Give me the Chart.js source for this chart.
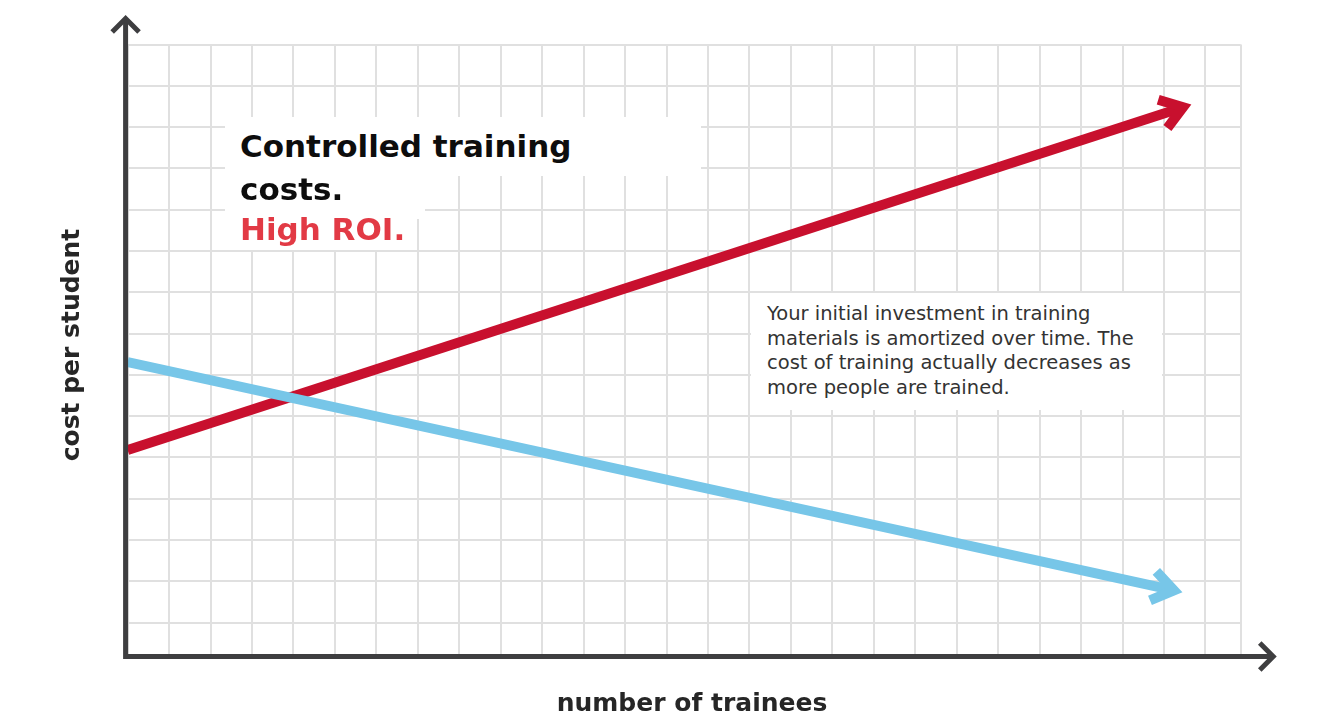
<!DOCTYPE html>
<html lang="en">
<head>
<meta charset="UTF-8">
<title>Controlled training costs</title>
<script src="https://cdn.jsdelivr.net/npm/chart.js"></script>
<style>
    body {
        margin: 0;
        background: #ffffff;
        font-family: "DejaVu Sans", sans-serif;
    }

    .wrap {
        position: relative;
        width: 1332px;
        height: 716px;
    }

    .box {
        position: absolute;
        background: #ffffff;
    }

    .headline {
        position: absolute;
        left: 240px;
        font-size: 31px;
        font-weight: bold;
        line-height: 40px;
        white-space: nowrap;
        color: #0d0d0d;
    }

    .headline.red {
        color: #e23a45;
    }

    .note {
        position: absolute;
        left: 767px;
        top: 302px;
        font-size: 19.5px;
        line-height: 24.7px;
        color: #333333;
        white-space: nowrap;
    }
</style>
</head>
<body>
<div class="wrap">
    <canvas id="roiChart"></canvas>

    <!-- white backing behind the texts -->
    <div class="box" style="left:225px; top:117px; width:476px; height:59px;"></div>
    <div class="box" style="left:225px; top:176px; width:200px; height:43px;"></div>
    <div class="box" style="left:225px; top:219px; width:190px; height:31px;"></div>
    <div class="box" style="left:751px; top:293px; width:411px; height:117px;"></div>

    <div class="headline" style="top:126px;">Controlled training</div>
    <div class="headline" style="top:169px;">costs.</div>
    <div class="headline red" style="top:209px;">High ROI.</div>

    <div class="note">Your initial investment in training<br>materials is amortized over time. The<br>cost of training actually decreases as<br>more people are trained.</div>
</div>

<script>
    // number of trainees (grid units) and cost per student
    const roiX = [0, 25.46];
    const roiY = [4.18, 12.48];
    const costX = [0, 25.24];
    const costY = [6.31, 0.78];

    // grid lines
    const xTicks = [0, 1, 2, 3, 4, 5, 6, 7, 8, 9, 10, 11, 12, 13, 14, 15, 16, 17, 18, 19, 20, 21, 22, 23, 24, 25, 26, 26.85];
    const yTicks = [0, 1, 2, 3, 4, 5, 6, 7, 8, 9, 10, 11, 12, 13, 14];

    const AXIS = '#3e3e40';
    const RED = '#c8102e';
    const BLUE = '#77c6e8';

    function points(xs, ys) {
        return xs.map((x, i) => ({x: x, y: ys[i]}));
    }

    function arrowHead(ctx, from, to, len, angle) {
        const a = Math.atan2(to.y - from.y, to.x - from.x);
        ctx.beginPath();
        ctx.moveTo(to.x - len * Math.cos(a - angle), to.y - len * Math.sin(a - angle));
        ctx.lineTo(to.x, to.y);
        ctx.lineTo(to.x - len * Math.cos(a + angle), to.y - len * Math.sin(a + angle));
        ctx.stroke();
    }

    // axes with arrows, arrowheads on the series, axis titles
    const decor = {
        id: 'decor',
        afterDatasetsDraw(chart) {
            const ctx = chart.ctx;
            const area = chart.chartArea;
            ctx.save();
            ctx.lineCap = 'butt';
            ctx.lineJoin = 'miter';

            chart.data.datasets.forEach((ds, i) => {
                const pts = chart.getDatasetMeta(i).data;
                const a = pts[pts.length - 2], b = pts[pts.length - 1];
                ctx.strokeStyle = ds.borderColor;
                ctx.lineWidth = ds.borderWidth;
                arrowHead(ctx, a, b, 26, 35 * Math.PI / 180);
            });

            const x0 = area.left - 2;
            const y0 = area.bottom + 2.5;
            const topTip = area.top - 26;
            const rightTip = area.right + 32.5;
            ctx.strokeStyle = AXIS;
            ctx.lineWidth = 5;
            ctx.beginPath();
            ctx.moveTo(x0, topTip);
            ctx.lineTo(x0, y0);
            ctx.lineTo(rightTip, y0);
            ctx.stroke();
            arrowHead(ctx, {x: x0, y: y0}, {x: x0, y: topTip}, 19, Math.PI / 4);
            arrowHead(ctx, {x: x0, y: y0}, {x: rightTip, y: y0}, 19, Math.PI / 4);

            ctx.fillStyle = '#262626';
            ctx.font = 'bold 25px "DejaVu Sans"';
            ctx.textAlign = 'center';
            ctx.textBaseline = 'alphabetic';
            ctx.fillText('number of trainees', 692, 711);
            ctx.translate(79, 345);
            ctx.rotate(-Math.PI / 2);
            ctx.fillText('cost per student', 0, 0);
            ctx.restore();
        }
    };

    const gridOpts = {
        color: '#e0e0e0',
        lineWidth: 2,
        drawTicks: false
    };

    new Chart(document.getElementById('roiChart'), {
        type: 'line',
        data: {
            datasets: [{
                label: 'cost per student (custom content)',
                data: points(costX, costY),
                borderColor: BLUE,
                borderWidth: 10
            }, {
                label: 'ROI',
                data: points(roiX, roiY),
                borderColor: RED,
                borderWidth: 10
            }]
        },
        options: {
            responsive: true,
            maintainAspectRatio: false,
            animation: false,
            layout: {
                padding: {left: 127.6, right: 91.3, top: 44.5, bottom: 62}
            },
            elements: {
                point: {radius: 0, hoverRadius: 0},
                line: {tension: 0, borderCapStyle: 'butt', borderJoinStyle: 'miter'}
            },
            plugins: {
                legend: {display: false},
                tooltip: {enabled: false}
            },
            scales: {
                x: {
                    type: 'linear',
                    min: 0,
                    max: 26.85,
                    grid: gridOpts,
                    border: {display: false},
                    ticks: {display: false},
                    afterBuildTicks: s => { s.ticks = xTicks.map(v => ({value: v})); },
                    afterFit: s => { s.height = 0; }
                },
                y: {
                    type: 'linear',
                    min: -0.76,
                    max: 14,
                    grid: gridOpts,
                    border: {display: false},
                    ticks: {display: false},
                    afterBuildTicks: s => { s.ticks = yTicks.map(v => ({value: v})); },
                    afterFit: s => { s.width = 0; }
                }
            }
        },
        plugins: [decor]
    });
</script>
</body>
</html>
